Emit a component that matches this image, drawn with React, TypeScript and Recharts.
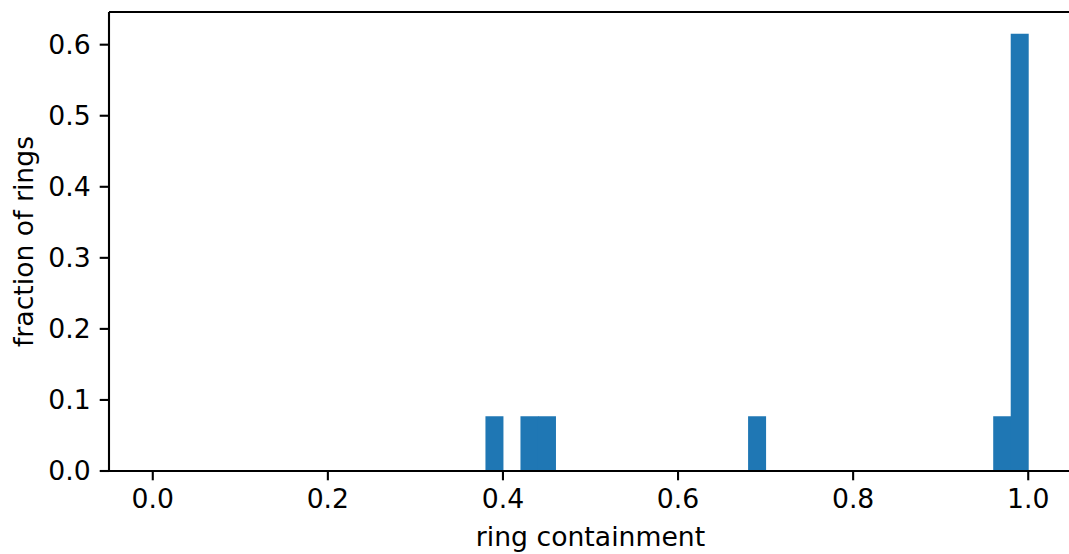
import React from "react";
import { BarChart, Bar, XAxis, YAxis, Label, ReferenceLine } from "recharts";

// histogram bins (width 0.02), only the non-empty ones
const binStarts = [0.38, 0.42, 0.44, 0.68, 0.96, 0.98];
const binCounts = [1, 1, 1, 1, 1, 8];
const totalRings = 13;
const binWidth = 0.02;

const xTicks = [0, 0.2, 0.4, 0.6, 0.8, 1.0];
const yTicks = [0, 0.1, 0.2, 0.3, 0.4, 0.5, 0.6];
const yMax = 0.646;

const data = binStarts.map((s, i) => ({
  x: s + binWidth / 2,
  fraction: binCounts[i] / totalRings,
}));

const font = "DejaVu Sans";
const fs = 26.67;
const line = { stroke: "#000", strokeWidth: 2.1 };

export default function App() {
  return (
    <div style={{ position: "absolute", left: 0, top: 0, width: 1069, height: 554, overflow: "hidden", background: "#fff" }}>
      <BarChart
        width={1080}
        height={554}
        data={data}
        margin={{ top: 12, right: 8, left: 0, bottom: 0 }}
        barCategoryGap={0}
        barGap={0}
      >
        <XAxis
          dataKey="x"
          type="number"
          domain={[-0.05, 1.05]}
          ticks={xTicks}
          allowDataOverflow
          tickFormatter={(v) => v.toFixed(1)}
          height={83}
          tickSize={9.3}
          tickMargin={9}
          axisLine={line}
          tickLine={line}
          tick={{ fill: "#000", fontSize: fs, fontFamily: font }}
        >
          <Label
            value="ring containment"
            position="insideBottom"
            offset={8}
            style={{ fill: "#000", fontSize: fs, fontFamily: font }}
          />
        </XAxis>
        <YAxis
          type="number"
          domain={[0, yMax]}
          ticks={yTicks}
          allowDataOverflow
          tickFormatter={(v) => v.toFixed(1)}
          width={109}
          tickSize={9.3}
          tickMargin={9}
          axisLine={line}
          tickLine={line}
          tick={{ fill: "#000", fontSize: fs, fontFamily: font }}
        >
          <Label
            value="fraction of rings"
            angle={-90}
            position="insideLeft"
            offset={24}
            style={{ fill: "#000", fontSize: fs, fontFamily: font, textAnchor: "middle" }}
          />
        </YAxis>
        <Bar dataKey="fraction" fill="#1f77b4" isAnimationActive={false} />
        {/* top spine */}
        <ReferenceLine y={yMax} stroke="#000" strokeWidth={2.1} />
      </BarChart>
    </div>
  );
}
